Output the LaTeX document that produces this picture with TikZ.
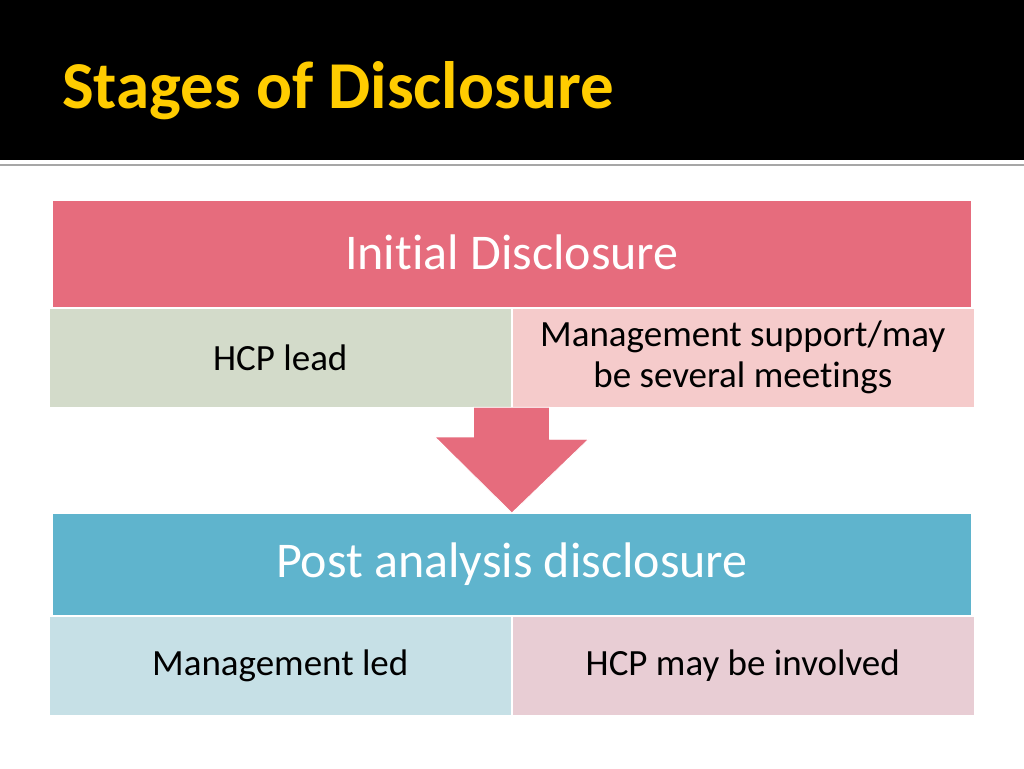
\documentclass[tikz,border=0pt]{standalone}
\usepackage{fontspec}
\setmainfont[Ligatures=NoCommon]{Carlito}
\usetikzlibrary{
  positioning,
  calc
}
\definecolor{titleyellow}{HTML}{FFCC00}
\definecolor{rulegray}{HTML}{A6A6A6}
\definecolor{stagered}{HTML}{E66C7D}
\definecolor{stageblue}{HTML}{5FB4CD}
\definecolor{partsage}{HTML}{D3DBCA}
\definecolor{partrose}{HTML}{F5CBCB}
\definecolor{partsky}{HTML}{C6E0E6}
\definecolor{partmauve}{HTML}{E8CDD4}

\begin{document}
\begin{tikzpicture}[
  x=1pt, y=-1pt,
  title/.style={
     font=\fontsize{67}{70}\selectfont\bfseries,
     text=titleyellow,
     inner sep=0pt
  },
  stage/.style={
     rectangle,
     draw=white,
     line width=.8pt,
     minimum width=919pt,
     inner sep=0pt,
     text=white,
     font=\fontsize{50}{56}\selectfont
  },
  part/.style={
     rectangle,
     draw=white,
     line width=.5pt,
     minimum width=462pt,
     minimum height=99pt,
     inner sep=0pt,
     align=center,
     font=\fontsize{37}{41}\selectfont
  }
]
   \useasboundingbox (0,0) rectangle (1024,768);

   % The title bar
   \fill[black] (0,0) rectangle (1024,160);
   \draw[rulegray, line width=2pt] (0,165) -- (1024,165);
   \node[title, anchor=base west] (title) at (62,108) {Stages of Disclosure};

   % The first stage
   \node[stage, fill=stagered, minimum height=107pt, anchor=north west] (initial) at (52,200) {\raisebox{3pt}{Initial Disclosure}};
   \node[part, fill=partsage, below=0pt of initial.south west, anchor=north west, xshift=-3pt] (hcplead) {HCP lead};
   \node[part, fill=partrose, right=0pt of hcplead] (support) {Management support/may\\be several meetings};

   % The second stage
   \node[stage, fill=stageblue, minimum height=102pt, anchor=north west] (post) at (52,513) {\raisebox{-4pt}{Post analysis disclosure}};
   \node[part, fill=partsky, below=0pt of post.south west, anchor=north west, xshift=-3pt] (mgmtled) {Management led};
   \node[part, fill=partmauve, right=0pt of mgmtled] (involved) {HCP may be involved};

   % The arrow between the stages
   \draw[white, fill=stagered, line width=.8pt]
      ($(hcplead.south east)+(-38,0)$) -- ++(76,0) -- ++(0,32) -- ++(39,0)
      -- (post.north) -- ++(-77,-76) -- ++(38.5,0) -- cycle;
\end{tikzpicture}
\end{document}
